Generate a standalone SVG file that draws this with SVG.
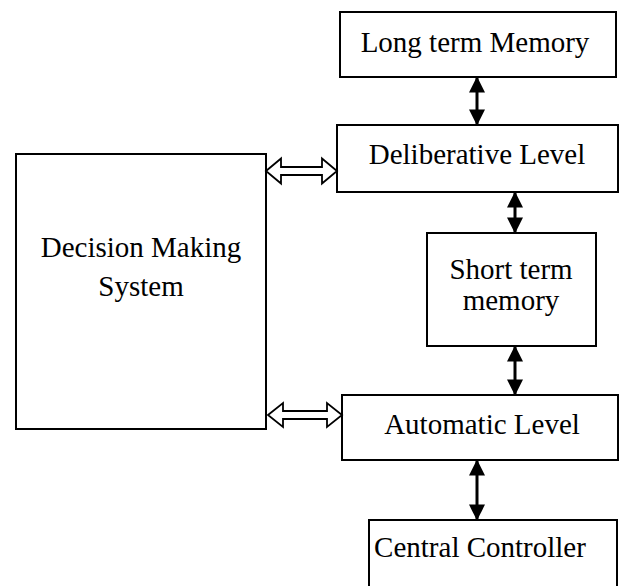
<svg xmlns="http://www.w3.org/2000/svg" width="623" height="586" viewBox="0 0 623 586">
  <style>
    .box { fill: #fff; stroke: #000; stroke-width: 2; }
    .lbl { font-family: 'Liberation Serif', 'DejaVu Serif', serif; font-size: 29px; fill: #000; text-anchor: middle; }
    .link { stroke: #000; stroke-width: 3; fill: none; marker-start: url(#head); marker-end: url(#head); }
    .hollow { fill: #fff; stroke: #000; stroke-width: 1.8; stroke-linejoin: miter; }
  </style>
  <defs>
    <marker id="head" viewBox="0 0 10 10" refX="9" refY="5" markerUnits="userSpaceOnUse" markerWidth="18" markerHeight="16" orient="auto-start-reverse">
      <path d="M0,0 L10,5 L0,10 Z" fill="#000"/>
    </marker>
  </defs>
  <rect width="623" height="586" fill="#fff"/>

  <g id="long-term-memory">
    <rect class="box" x="340" y="12" width="276" height="65"/>
    <text class="lbl" x="475" y="52">Long term Memory</text>
  </g>

  <g id="deliberative-level">
    <rect class="box" x="337" y="125" width="281" height="67"/>
    <text class="lbl" x="477" y="164">Deliberative Level</text>
  </g>

  <g id="decision-making-system">
    <rect class="box" x="16" y="154" width="250" height="275"/>
    <text class="lbl" x="141" y="257">Decision Making</text>
    <text class="lbl" x="141" y="296">System</text>
  </g>

  <g id="short-term-memory">
    <rect class="box" x="427" y="233" width="169" height="113"/>
    <text class="lbl" x="511" y="279">Short term</text>
    <text class="lbl" x="511" y="310">memory</text>
  </g>

  <g id="automatic-level">
    <rect class="box" x="342" y="395" width="276" height="65"/>
    <text class="lbl" x="482" y="434">Automatic Level</text>
  </g>

  <g id="central-controller">
    <rect class="box" x="369" y="520" width="248" height="80"/>
    <text class="lbl" x="480" y="557">Central Controller</text>
  </g>

  <g id="connectors">
    <line class="link" x1="477" y1="78" x2="477" y2="124"/>
    <line class="link" x1="515" y1="193" x2="515" y2="232"/>
    <line class="link" x1="515" y1="347" x2="515" y2="394"/>
    <line class="link" x1="477" y1="461" x2="477" y2="519"/>
    <path class="hollow" d="M266,171 L281,158.5 L281,167 L322,167 L322,158.5 L337,171 L322,183.5 L322,175 L281,175 L281,183.5 Z"/>
    <path class="hollow" d="M268,415 L283,403 L283,411 L327,411 L327,403 L342,415 L327,427 L327,419 L283,419 L283,427 Z"/>
  </g>
</svg>
